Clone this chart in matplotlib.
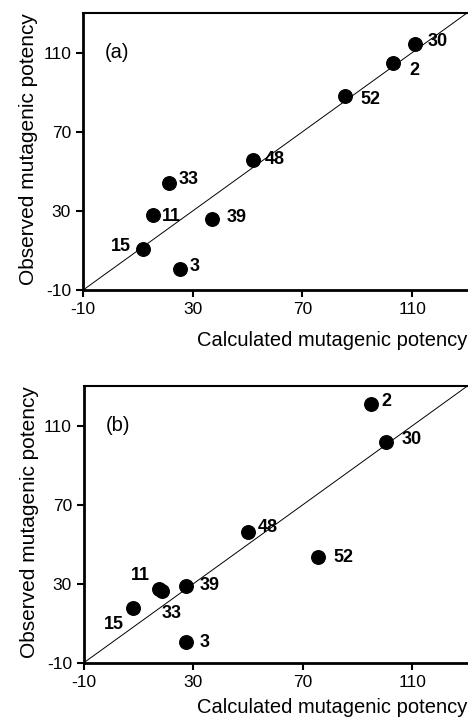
import matplotlib
matplotlib.use("Agg")
import matplotlib.pyplot as plt

plt.rcParams['font.family'] = ['Liberation Sans', 'DejaVu Sans']
plt.rcParams['axes.unicode_minus'] = False

# compuestos y valores (calculado, observado)
ids_a = ['30', '2', '52', '48', '33', '11', '39', '15', '3']
calc_a = [111, 103, 85.5, 52, 21.5, 15.5, 37, 12, 25.5]
obs_a = [114.5, 104.5, 88, 56, 44, 28, 26, 11, 0.5]

ids_b = ['2', '30', '48', '52', '11', '33', '39', '15', '3']
calc_b = [95, 100.5, 50, 75.5, 17.5, 18.5, 27.5, 8, 27.5]
obs_b = [121, 102, 56, 43.5, 27.5, 26.5, 29, 17.5, 0.5]

ticks = [-10, 30, 70, 110]

# desplazamientos de etiquetas (pixeles) y alineacion horizontal
offs_a = {'30': (13, 2, 'left'), '2': (16, -7, 'left'), '52': (16, -3, 'left'),
          '48': (12, 0, 'left'), '33': (9, 4, 'left'), '11': (9, -2, 'left'),
          '39': (15, 1, 'left'), '15': (-12, 2, 'right'), '3': (9, 3, 'left')}
offs_b = {'2': (10, 3, 'left'), '30': (15, 2, 'left'), '48': (10, 5, 'left'),
          '52': (16, 0, 'left'), '11': (-9, 13, 'right'), '33': (0, -23, 'left'),
          '39': (13, 0, 'left'), '15': (-9, -16, 'right'), '3': (13, 0, 'left')}


def panel(ax, ids, xs, ys, offs, tag, pad):
    ax.plot([-10, 130], [-10, 130], color='black', lw=0.7, zorder=1)
    ax.scatter(xs, ys, s=95, color='black', zorder=3)
    for name, x, y in zip(ids, xs, ys):
        dx, dy, ha = offs[name]
        ax.annotate(name, (x, y), xytext=(dx, dy), textcoords='offset pixels',
                    ha=ha, va='center', fontsize=13, fontweight='bold')
    ax.text(-2, 110, tag, fontsize=14.5, va='center', ha='left')
    ax.set_xlim(-10, 130)
    ax.set_ylim(-10, 130)
    ax.set_xticks(ticks)
    ax.set_yticks(ticks)
    ax.tick_params(labelsize=12.5, length=5, width=1.5, direction='out')
    ax.spines['right'].set_visible(False)
    ax.spines['left'].set_linewidth(2)
    ax.spines['bottom'].set_linewidth(2)
    ax.spines['top'].set_linewidth(1.5)
    ax.set_xlabel('Calculated mutagenic potency', fontsize=14.5, loc='right', labelpad=pad)
    ax.set_ylabel('Observed mutagenic potency', fontsize=15, loc='top', labelpad=4)


fig = plt.figure(figsize=(4.68, 7.22), dpi=100)
ax1 = fig.add_axes([0.177, 0.598, 0.821, 0.384])
ax2 = fig.add_axes([0.179, 0.082, 0.819, 0.383])
panel(ax1, ids_a, calc_a, obs_a, offs_a, '(a)', 10)
panel(ax2, ids_b, calc_b, obs_b, offs_b, '(b)', 6)

fig.savefig('out.png', dpi=100)
